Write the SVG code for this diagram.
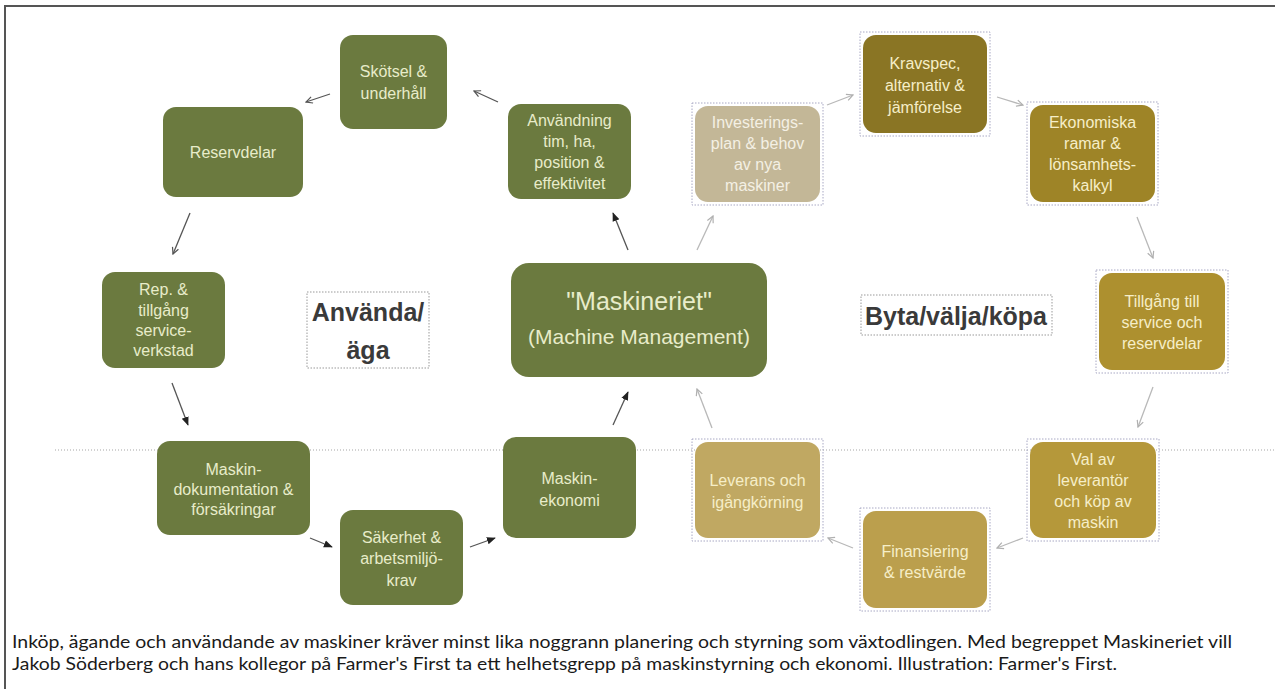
<svg xmlns="http://www.w3.org/2000/svg" width="1275" height="689" viewBox="0 0 1275 689">
<style>
.g{fill:#6b7a3f}
.t{font-family:"Liberation Sans",Arial,sans-serif;font-size:16px;text-anchor:middle}
.tg{fill:#e8ecca}
.to{fill:#f6eec8}
.sel{fill:none;stroke:#a8a8c4;stroke-width:1;stroke-dasharray:1.5 1.5}
.lab{font-family:"Liberation Sans",Arial,sans-serif;font-size:25px;font-weight:bold;fill:#3a3a3a;text-anchor:middle}
.lbox{fill:none;stroke:#999;stroke-width:1;stroke-dasharray:1.5 1.5}
.dk{stroke:#555;stroke-width:1.3;fill:none}
.lt{stroke:#b8b8b8;stroke-width:1.3;fill:none}
.cap{font-family:Lato,"Open Sans",sans-serif;font-size:17px;fill:#1a1a1a}
</style>
<defs>
<marker id="vd" viewBox="0 0 10 10" refX="9" refY="5" markerWidth="8" markerHeight="8" markerUnits="userSpaceOnUse" orient="auto"><path d="M1,1 L9,5 L1,9" fill="none" stroke="#555" stroke-width="1.5"/></marker>
<marker id="fd" viewBox="0 0 10 10" refX="9" refY="5" markerWidth="9" markerHeight="9" markerUnits="userSpaceOnUse" orient="auto"><path d="M0,1 L10,5 L0,9 Z" fill="#222"/></marker>
<marker id="vl" viewBox="0 0 10 10" refX="9" refY="5" markerWidth="8" markerHeight="8" markerUnits="userSpaceOnUse" orient="auto"><path d="M1,1 L9,5 L1,9" fill="none" stroke="#b0b0b0" stroke-width="1.5"/></marker>
</defs>
<rect width="1275" height="689" fill="#ffffff"/>
<g id="frame">
<line x1="4" y1="6" x2="1275" y2="6" stroke="#555" stroke-width="2"/>
<line x1="5" y1="5" x2="5" y2="689" stroke="#555" stroke-width="2"/>
</g>
<line id="divider" x1="55" y1="450" x2="1275" y2="450" stroke="#c4c4c4" stroke-width="1.5" stroke-dasharray="1 2"/>
<g id="connectors">
<line class="dk" x1="498" y1="102" x2="474" y2="91" marker-end="url(#vd)"/>
<line class="dk" x1="330" y1="94" x2="306" y2="102" marker-end="url(#vd)"/>
<line class="dk" x1="190" y1="213" x2="173" y2="254" marker-end="url(#vd)"/>
<line class="dk" x1="172" y1="383" x2="188" y2="425" marker-end="url(#fd)"/>
<line class="dk" x1="310" y1="538" x2="332" y2="547" marker-end="url(#fd)"/>
<line class="dk" x1="470" y1="547" x2="495" y2="538" marker-end="url(#fd)"/>
<line class="dk" x1="613" y1="425" x2="628" y2="392" marker-end="url(#fd)"/>
<line class="dk" x1="628" y1="250" x2="613" y2="213" marker-end="url(#fd)"/>
<line class="lt" x1="697" y1="250" x2="713" y2="216" marker-end="url(#vl)"/>
<line class="lt" x1="827" y1="105" x2="853" y2="95" marker-end="url(#vl)"/>
<line class="lt" x1="997" y1="97" x2="1023" y2="105" marker-end="url(#vl)"/>
<line class="lt" x1="1137" y1="217" x2="1153" y2="258" marker-end="url(#vl)"/>
<line class="lt" x1="1153" y1="387" x2="1138" y2="427" marker-end="url(#vl)"/>
<line class="lt" x1="1023" y1="538" x2="997" y2="548" marker-end="url(#vl)"/>
<line class="lt" x1="853" y1="548" x2="828" y2="538" marker-end="url(#vl)"/>
<line class="lt" x1="712" y1="428" x2="697" y2="389" marker-end="url(#vl)"/>
</g>
<g id="n-skotsel">
<rect class="g" x="340" y="35" width="107" height="94" rx="13"/>
<text class="t tg"><tspan x="393.5" y="77">Skötsel &amp;</tspan><tspan x="393.5" y="99">underhåll</tspan></text>
</g>
<g id="n-reservdelar">
<rect class="g" x="163" y="107" width="140" height="90" rx="13"/>
<text class="t tg" x="233" y="158">Reservdelar</text>
</g>
<g id="n-anvandning">
<rect class="g" x="508" y="104" width="123" height="95" rx="13"/>
<text class="t tg"><tspan x="569.5" y="126">Användning</tspan><tspan x="569.5" y="147">tim, ha,</tspan><tspan x="569.5" y="168">position &amp;</tspan><tspan x="569.5" y="189">effektivitet</tspan></text>
</g>
<g id="n-investering">
<rect x="695" y="106" width="125" height="96" rx="13" fill="#c3b797"/>
<rect class="sel" x="692" y="103" width="131" height="102"/>
<text class="t" fill="#f4f0e4"><tspan x="757.5" y="128">Investerings-</tspan><tspan x="757.5" y="149">plan &amp; behov</tspan><tspan x="757.5" y="170">av nya</tspan><tspan x="757.5" y="191">maskiner</tspan></text>
</g>
<g id="n-kravspec">
<rect x="863" y="35" width="124" height="98" rx="13" fill="#8a7524"/>
<rect class="sel" x="860" y="32" width="130" height="104"/>
<text class="t to"><tspan x="925" y="69">Kravspec,</tspan><tspan x="925" y="91">alternativ &amp;</tspan><tspan x="925" y="113">jämförelse</tspan></text>
</g>
<g id="n-ekonomiska">
<rect x="1030" y="105" width="125" height="97" rx="13" fill="#9e8427"/>
<rect class="sel" x="1027" y="102" width="131" height="103"/>
<text class="t to"><tspan x="1092.5" y="128">Ekonomiska</tspan><tspan x="1092.5" y="149">ramar &amp;</tspan><tspan x="1092.5" y="170">lönsamhets-</tspan><tspan x="1092.5" y="191">kalkyl</tspan></text>
</g>
<g id="n-tillgang">
<rect x="1099" y="273" width="126" height="97" rx="13" fill="#ad902f"/>
<rect class="sel" x="1096" y="270" width="132" height="103"/>
<text class="t to"><tspan x="1162" y="307">Tillgång till</tspan><tspan x="1162" y="328">service och</tspan><tspan x="1162" y="349">reservdelar</tspan></text>
</g>
<g id="n-val">
<rect x="1030" y="442" width="126" height="96" rx="13" fill="#b5983a"/>
<rect class="sel" x="1027" y="439" width="132" height="102"/>
<text class="t to"><tspan x="1093" y="465">Val av</tspan><tspan x="1093" y="486">leverantör</tspan><tspan x="1093" y="507">och köp av</tspan><tspan x="1093" y="528">maskin</tspan></text>
</g>
<g id="n-finansiering">
<rect x="863" y="511" width="124" height="97" rx="13" fill="#bb9f4d"/>
<rect class="sel" x="860" y="508" width="130" height="103"/>
<text class="t to"><tspan x="925" y="557">Finansiering</tspan><tspan x="925" y="578">&amp; restvärde</tspan></text>
</g>
<g id="n-leverans">
<rect x="695" y="442" width="125" height="96" rx="13" fill="#c0a862"/>
<rect class="sel" x="692" y="439" width="131" height="102"/>
<text class="t to"><tspan x="757.5" y="486">Leverans och</tspan><tspan x="757.5" y="508">igångkörning</tspan></text>
</g>
<g id="n-maskinekonomi">
<rect class="g" x="503" y="437" width="133" height="101" rx="13"/>
<text class="t tg"><tspan x="569.5" y="484">Maskin-</tspan><tspan x="569.5" y="506">ekonomi</tspan></text>
</g>
<g id="n-sakerhet">
<rect class="g" x="340" y="510" width="123" height="95" rx="13"/>
<text class="t tg"><tspan x="401.5" y="543">Säkerhet &amp;</tspan><tspan x="401.5" y="564">arbetsmiljö-</tspan><tspan x="401.5" y="586">krav</tspan></text>
</g>
<g id="n-maskindok">
<rect class="g" x="157" y="441" width="153" height="94" rx="13"/>
<text class="t tg"><tspan x="233.5" y="475">Maskin-</tspan><tspan x="233.5" y="495">dokumentation &amp;</tspan><tspan x="233.5" y="515">försäkringar</tspan></text>
</g>
<g id="n-rep">
<rect class="g" x="102" y="272" width="123" height="96" rx="13"/>
<text class="t tg"><tspan x="163.5" y="295">Rep. &amp;</tspan><tspan x="163.5" y="316">tillgång</tspan><tspan x="163.5" y="336">service-</tspan><tspan x="163.5" y="356">verkstad</tspan></text>
</g>
<g id="n-center">
<rect class="g" x="511" y="263" width="256" height="114" rx="18"/>
<text x="639" y="310" font-family="Liberation Sans, Arial, sans-serif" font-size="25" fill="#e8ecca" text-anchor="middle">"Maskineriet"</text>
<text x="639" y="344" font-family="Liberation Sans, Arial, sans-serif" font-size="21" fill="#e8ecca" text-anchor="middle">(Machine Management)</text>
</g>
<g id="label-anvanda">
<rect class="lbox" x="307" y="292" width="122" height="76"/>
<text class="lab"><tspan x="368" y="321">Använda/</tspan><tspan x="368" y="359">äga</tspan></text>
</g>
<g id="label-byta">
<rect class="lbox" x="861" y="295" width="191" height="40"/>
<text class="lab" x="956" y="325">Byta/välja/köpa</text>
</g>
<g id="caption">
<text class="cap" x="12" y="648" textLength="1220" lengthAdjust="spacingAndGlyphs">Inköp, ägande och användande av maskiner kräver minst lika noggrann planering och styrning som växtodlingen. Med begreppet Maskineriet vill</text>
<text class="cap" x="12" y="670" textLength="1105" lengthAdjust="spacingAndGlyphs">Jakob Söderberg och hans kollegor på Farmer's First ta ett helhetsgrepp på maskinstyrning och ekonomi. Illustration: Farmer's First.</text>
</g>
</svg>
